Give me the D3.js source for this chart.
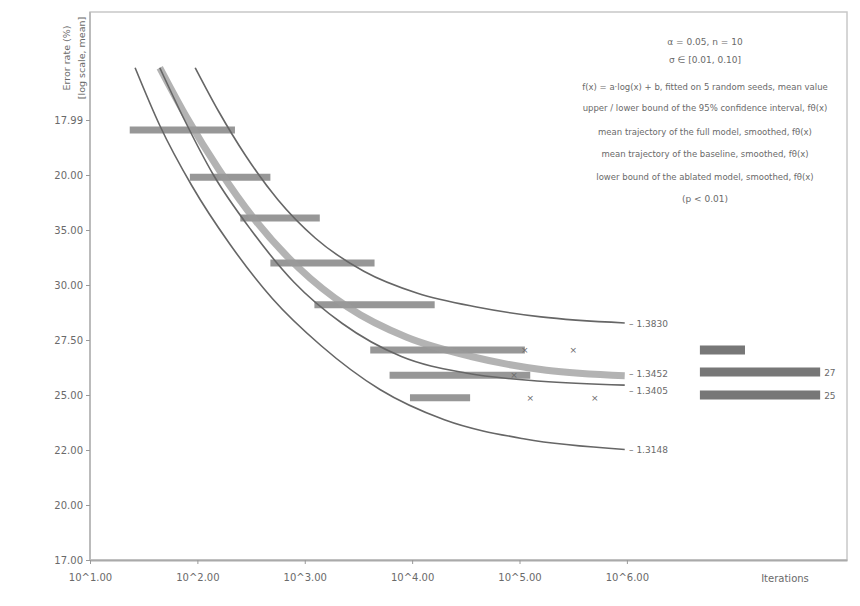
<!DOCTYPE html>
<html><head><meta charset="utf-8">
<script src="https://cdn.jsdelivr.net/npm/d3@7/dist/d3.min.js"></script>
<style>body{margin:0;background:#fff}svg{display:block}text{font-family:"DejaVu Sans",sans-serif;fill:#6a6a6a}</style>
</head><body><svg id="c" width="860" height="606"></svg>
<script>
// x values are log10 exponents, y values are axis levels
const xTicks = [1, 2, 3, 4, 5, 6];
const xTickLabels = ["10^1.00", "10^2.00", "10^3.00", "10^4.00", "10^5.00", "10^6.00"];
const yTicks = [0, 1, 2, 3, 4, 5, 6, 7, 8];
const yTickLabels = ["17.00", "20.00", "22.00", "25.00", "27.50", "30.00", "35.00", "20.00", "17.99"];
const xTitle = "Iterations";
const yTitle = ["Error rate (%)", "[log scale, mean]"];

const curveUpperX = [1.98, 2.20, 2.45, 2.75, 3.10, 3.55, 4.05, 4.60, 5.20, 5.98];
const curveUpperY = [8.95, 8.15, 7.35, 6.55, 5.85, 5.25, 4.85, 4.60, 4.42, 4.31];
const curveBandX = [1.65, 1.90, 2.20, 2.55, 2.95, 3.40, 3.95, 4.55, 5.25, 5.98];
const curveBandY = [8.95, 8.05, 7.10, 6.15, 5.30, 4.60, 4.05, 3.70, 3.45, 3.35];
const curveMidX = [1.65, 1.88, 2.15, 2.50, 2.90, 3.35, 3.90, 4.50, 5.20, 5.98];
const curveMidY = [8.95, 8.00, 7.00, 6.00, 5.05, 4.30, 3.70, 3.40, 3.25, 3.18];
const curveLowerX = [1.42, 1.65, 1.95, 2.30, 2.70, 3.15, 3.70, 4.30, 5.05, 5.98];
const curveLowerY = [8.95, 7.90, 6.80, 5.75, 4.75, 3.90, 3.10, 2.55, 2.20, 2.01];
const curveLabels = ["1.3830", "1.3452", "1.3405", "1.3148"];

const barY = [7.82, 6.96, 6.22, 5.40, 4.64, 3.82, 3.36, 2.95];
const barStart = [1.37, 1.93, 2.40, 2.68, 3.09, 3.61, 3.79, 3.98];
const barEnd = [2.35, 2.68, 3.14, 3.65, 4.21, 5.05, 5.10, 4.54];

const sideBarY = [3.82, 3.42, 3.00];
const sideBarStart = [6.68, 6.68, 6.68];
const sideBarEnd = [7.10, 7.80, 7.80];
const sideBarLabels = ["", "27", "25"];

const markX = [5.05, 5.50, 4.95, 5.70, 5.10];
const markY = [3.82, 3.82, 3.36, 2.95, 2.95];

const notes = ["α = 0.05, n = 10", "σ ∈ [0.01, 0.10]",
  "f(x) = a·log(x) + b, fitted on 5 random seeds, mean value",
  "upper / lower bound of the 95% confidence interval, fθ(x)",
  "mean trajectory of the full model, smoothed, fθ(x)",
  "mean trajectory of the baseline, smoothed, fθ(x)",
  "lower bound of the ablated model, smoothed, fθ(x)", "(p < 0.01)"];

const svg = d3.select("#c");
const x = d3.scaleLinear().domain([1, 8.05]).range([90, 847]);
const y = d3.scaleLinear().domain([0, 8]).range([560, 120]);

// frame
svg.append("rect").attr("x", 90).attr("y", 12).attr("width", 757).attr("height", 548)
  .attr("fill", "none").attr("stroke", "#c8c8c8").attr("stroke-width", 1.5);

const xAxis = d3.axisBottom(x).tickValues(xTicks).tickFormat((d, i) => xTickLabels[i]).tickSize(4).tickSizeOuter(0);
const gx = svg.append("g").attr("transform", "translate(0,560)").call(xAxis);
gx.select(".domain").attr("stroke", "#aaa").attr("stroke-width", 2);
gx.selectAll(".tick line").attr("stroke", "#999");
gx.selectAll("text").attr("font-size", 10).attr("fill", "#666").attr("dy", "1.35em");

const yAxis = d3.axisLeft(y).tickValues(yTicks).tickFormat((d, i) => yTickLabels[i]).tickSize(4).tickSizeOuter(0);
const gy = svg.append("g").attr("transform", "translate(90,0)").call(yAxis);
gy.select(".domain").attr("stroke", "#bbb").attr("stroke-width", 2).attr("d", "M0,12V560");
gy.selectAll(".tick line").attr("stroke", "#999");
gy.selectAll("text").attr("font-size", 10).attr("fill", "#666");

svg.append("text").attr("x", 785).attr("y", 582).attr("text-anchor", "middle").attr("font-size", 10).text(xTitle);
yTitle.forEach((t, i) => svg.append("text").attr("transform", `translate(${70 + i * 15},58) rotate(-90)`)
  .attr("text-anchor", "middle").attr("font-size", 9.5).text(t));

// bars
const bars = barY.map((v, i) => ({y: v, a: barStart[i], b: barEnd[i]}));
svg.selectAll(".bar").data(bars).join("line").attr("class", "bar")
  .attr("x1", d => x(d.a)).attr("x2", d => x(d.b)).attr("y1", d => y(d.y)).attr("y2", d => y(d.y))
  .attr("stroke", "#858585").attr("stroke-width", 7).attr("opacity", 0.85);

const sbars = sideBarY.map((v, i) => ({y: v, a: sideBarStart[i], b: sideBarEnd[i], l: sideBarLabels[i]}));
svg.selectAll(".sbar").data(sbars).join("line").attr("class", "sbar")
  .attr("x1", d => x(d.a)).attr("x2", d => x(d.b)).attr("y1", d => y(d.y)).attr("y2", d => y(d.y))
  .attr("stroke", "#777").attr("stroke-width", 9);
svg.selectAll(".sbl").data(sbars).join("text").attr("class", "sbl")
  .attr("x", d => x(d.b) + 4).attr("y", d => y(d.y) + 4).attr("font-size", 9).text(d => d.l);

// curves
const line = d3.line().x(d => x(d[0])).y(d => y(d[1])).curve(d3.curveMonotoneX);
const curves = [
  {xs: curveBandX, ys: curveBandY, w: 7, c: "#9a9a9a", o: 0.75},
  {xs: curveUpperX, ys: curveUpperY, w: 1.6, c: "#666", o: 1},
  {xs: curveMidX, ys: curveMidY, w: 1.6, c: "#666", o: 1},
  {xs: curveLowerX, ys: curveLowerY, w: 1.6, c: "#666", o: 1}];
curves.forEach(cv => svg.append("path").datum(cv.xs.map((v, i) => [v, cv.ys[i]]))
  .attr("d", line).attr("fill", "none").attr("stroke", cv.c).attr("stroke-width", cv.w).attr("opacity", cv.o));

const ends = [curveUpperY, curveBandY, curveMidY, curveLowerY];
ends.forEach((ys, i) => svg.append("text").attr("x", x(6.02)).attr("y", y(ys[ys.length - 1]) + 4 + (i === 1 ? -3 : i === 2 ? 5 : 0))
  .attr("font-size", 9).text("– " + curveLabels[i]));

svg.selectAll(".mk").data(markX.map((v, i) => [v, markY[i]])).join("text").attr("class", "mk")
  .attr("x", d => x(d[0])).attr("y", d => y(d[1]) + 3).attr("text-anchor", "middle").attr("font-size", 9).text("×");

// notes
const noteY = [45, 63, 90, 111, 135, 157, 180, 202];
notes.forEach((t, i) => svg.append("text").attr("x", 705).attr("y", noteY[i]).attr("text-anchor", "middle")
  .attr("font-size", i >= 2 && i <= 6 ? 8.5 : 9).text(t));
</script></body></html>
